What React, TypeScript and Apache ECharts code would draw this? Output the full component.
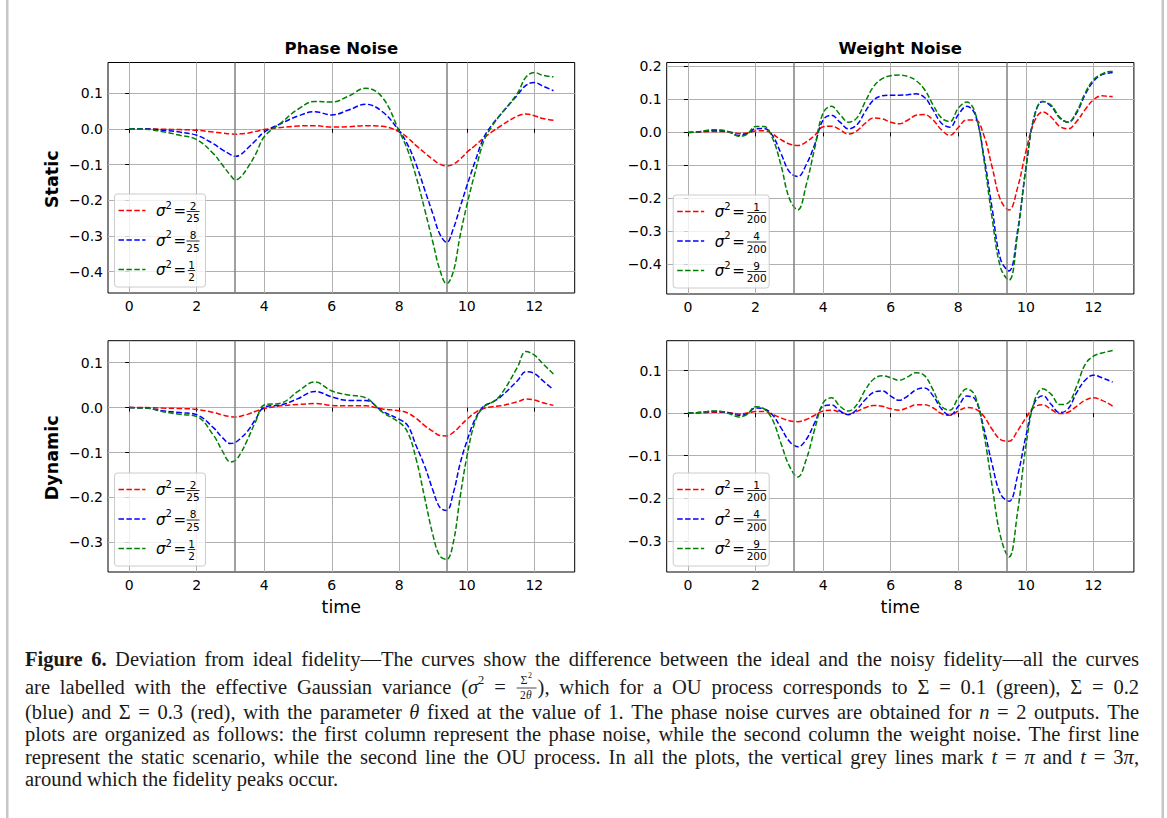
import React, { useEffect, useRef } from "react";
import * as echarts from "echarts";

// ---------------- data ----------------
const xPhase = [0, 0.5, 1, 1.5, 2, 2.5, 2.75, 3, 3.15, 3.3, 3.5, 3.75, 4, 4.5, 5, 5.5, 6, 6.5, 7, 7.5, 8, 8.25, 8.5, 8.75, 9, 9.2, 9.4, 9.6, 9.8, 10, 10.25, 10.5, 10.75, 11, 11.5, 11.75, 12, 12.25, 12.566];

const phaseStaticRed = [0, 0, -0.001, -0.002, -0.004, -0.009, -0.012, -0.014, -0.015, -0.014, -0.012, -0.007, -0.002, 0.004, 0.008, 0.009, 0.005, 0.006, 0.009, 0.007, -0.008, -0.025, -0.047, -0.067, -0.086, -0.099, -0.104, -0.099, -0.085, -0.066, -0.046, -0.026, -0.008, 0.008, 0.036, 0.042, 0.037, 0.029, 0.024];
const phaseStaticBlue = [0, 0, -0.004, -0.009, -0.018, -0.042, -0.058, -0.072, -0.077, -0.072, -0.055, -0.032, -0.009, 0.015, 0.036, 0.048, 0.039, 0.053, 0.069, 0.048, -0.006, -0.045, -0.1, -0.17, -0.24, -0.295, -0.318, -0.28, -0.22, -0.16, -0.09, -0.025, 0.012, 0.04, 0.095, 0.122, 0.13, 0.12, 0.107];
const phaseStaticGreen = [0, -0.001, -0.008, -0.018, -0.03, -0.07, -0.1, -0.13, -0.143, -0.135, -0.11, -0.07, -0.022, 0.017, 0.055, 0.077, 0.075, 0.092, 0.114, 0.088, -0.007, -0.06, -0.135, -0.225, -0.32, -0.395, -0.434, -0.4, -0.3, -0.214, -0.12, -0.035, 0.008, 0.04, 0.1, 0.145, 0.158, 0.15, 0.146];

const phaseDynamicRed = [0, 0, -0.001, -0.002, -0.004, -0.011, -0.016, -0.02, -0.021, -0.019, -0.015, -0.008, -0.002, 0.004, 0.007, 0.009, 0.005, 0.004, 0.004, -0.003, -0.007, -0.012, -0.024, -0.04, -0.053, -0.062, -0.063, -0.055, -0.041, -0.026, -0.011, -0.002, 0.002, 0.004, 0.013, 0.019, 0.017, 0.011, 0.005];
const phaseDynamicBlue = [0, -0.001, -0.007, -0.011, -0.016, -0.045, -0.066, -0.08, -0.077, -0.068, -0.053, -0.025, 0.001, 0.006, 0.02, 0.036, 0.024, 0.016, 0.016, -0.008, -0.026, -0.04, -0.085, -0.13, -0.185, -0.222, -0.229, -0.19, -0.125, -0.075, -0.025, 0.003, 0.012, 0.024, 0.06, 0.08, 0.076, 0.06, 0.04];
const phaseDynamicGreen = [0, -0.001, -0.009, -0.015, -0.02, -0.062, -0.095, -0.121, -0.117, -0.102, -0.072, -0.03, 0.006, 0.01, 0.036, 0.057, 0.037, 0.028, 0.022, -0.01, -0.033, -0.055, -0.115, -0.2, -0.285, -0.33, -0.338, -0.3, -0.2, -0.11, -0.03, 0.002, 0.012, 0.028, 0.09, 0.125, 0.117, 0.098, 0.075];

const xWeight = [0, 0.25, 0.5, 0.75, 1, 1.25, 1.5, 1.75, 2, 2.25, 2.5, 2.75, 3, 3.25, 3.5, 3.75, 4, 4.25, 4.5, 4.75, 5, 5.25, 5.5, 5.75, 6, 6.25, 6.5, 6.75, 7, 7.25, 7.5, 7.75, 8, 8.25, 8.5, 8.75, 9, 9.25, 9.5, 9.75, 10, 10.25, 10.5, 10.75, 11, 11.25, 11.5, 11.75, 12, 12.25, 12.5, 12.566];

const weightStaticRed = [0, 0.0005, 0.002, 0.003, 0.003, 0.001, -0.003, -0.002, 0.004, 0.005, -0.005, -0.022, -0.035, -0.04, -0.029, -0.009, 0.017, 0.019, 0.008, -0.005, 0.005, 0.028, 0.044, 0.041, 0.031, 0.026, 0.037, 0.052, 0.054, 0.038, 0.008, -0.009, 0.015, 0.038, 0.038, -0.007, -0.105, -0.205, -0.235, -0.169, -0.058, 0.033, 0.062, 0.046, 0.018, 0.011, 0.033, 0.069, 0.099, 0.111, 0.109, 0.109];
const weightStaticBlue = [0, 0.001, 0.004, 0.006, 0.005, 0, -0.009, -0.004, 0.011, 0.012, -0.009, -0.063, -0.119, -0.134, -0.098, -0.037, 0.038, 0.052, 0.031, 0.011, 0.023, 0.064, 0.099, 0.111, 0.113, 0.113, 0.114, 0.117, 0.106, 0.069, 0.028, 0.016, 0.054, 0.079, 0.054, -0.068, -0.23, -0.385, -0.42, -0.301, -0.108, 0.049, 0.094, 0.079, 0.044, 0.031, 0.059, 0.114, 0.155, 0.175, 0.181, 0.182];
const weightStaticGreen = [0, 0.001, 0.005, 0.008, 0.007, 0, -0.012, -0.006, 0.018, 0.018, -0.017, -0.098, -0.2, -0.235, -0.159, -0.048, 0.059, 0.079, 0.054, 0.031, 0.044, 0.094, 0.14, 0.163, 0.172, 0.174, 0.17, 0.157, 0.13, 0.084, 0.044, 0.033, 0.074, 0.092, 0.059, -0.078, -0.26, -0.41, -0.448, -0.311, -0.108, 0.049, 0.094, 0.082, 0.046, 0.031, 0.063, 0.119, 0.16, 0.177, 0.185, 0.185];

const weightDynamicRed = [0, 0, 0.001, 0.002, 0.002, 0.001, -0.002, 0, 0.004, 0.004, -0.003, -0.011, -0.018, -0.02, -0.015, -0.005, 0.005, 0.007, 0.002, -0.002, 0.004, 0.013, 0.018, 0.016, 0.01, 0.007, 0.0125, 0.0195, 0.0195, 0.0125, -0.001, -0.005, 0.005, 0.013, 0.01, -0.007, -0.038, -0.062, -0.066, -0.042, -0.011, 0.014, 0.0195, 0.0086, -0.001, 0.002, 0.016, 0.03, 0.036, 0.03, 0.02, 0.016];
const weightDynamicBlue = [0, 0.001, 0.003, 0.004, 0.003, 0, -0.005, -0.002, 0.012, 0.01, -0.004, -0.034, -0.066, -0.079, -0.062, -0.023, 0.016, 0.019, 0.005, -0.004, 0.009, 0.032, 0.049, 0.052, 0.04, 0.03, 0.04, 0.055, 0.059, 0.041, 0.01, -0.005, 0.016, 0.04, 0.032, -0.034, -0.12, -0.19, -0.207, -0.148, -0.054, 0.024, 0.041, 0.02, 0.001, 0.01, 0.048, 0.077, 0.089, 0.083, 0.075, 0.073];
const weightDynamicGreen = [0, 0.001, 0.003, 0.005, 0.004, -0.002, -0.009, -0.003, 0.015, 0.01, -0.015, -0.07, -0.124, -0.15, -0.109, -0.038, 0.024, 0.036, 0.016, 0.005, 0.02, 0.055, 0.08, 0.088, 0.083, 0.077, 0.085, 0.095, 0.088, 0.055, 0.016, 0.007, 0.036, 0.057, 0.04, -0.046, -0.171, -0.29, -0.338, -0.234, -0.077, 0.028, 0.057, 0.044, 0.02, 0.024, 0.063, 0.114, 0.134, 0.141, 0.146, 0.147];

const xTicks = [0, 2, 4, 6, 8, 10, 12];
const yTicksPhaseStatic = [-0.4, -0.3, -0.2, -0.1, 0, 0.1];
const yTicksWeightStatic = [-0.4, -0.3, -0.2, -0.1, 0, 0.1, 0.2];
const yTicksPhaseDynamic = [-0.3, -0.2, -0.1, 0, 0.1];
const yTicksWeightDynamic = [-0.3, -0.2, -0.1, 0, 0.1];
const xRange = [-0.628, 13.195];
const yRangePhaseStatic = [-0.46, 0.186];
const yRangeWeightStatic = [-0.49, 0.212];
const yRangePhaseDynamic = [-0.366, 0.149];
const yRangeWeightDynamic = [-0.373, 0.17];
const peakTimes = [Math.PI, 3 * Math.PI];
const phaseLegend = [["2", "25"], ["8", "25"], ["1", "2"]];
const weightLegend = [["1", "200"], ["4", "200"], ["9", "200"]];
const columnTitles = ["Phase Noise", "Weight Noise"];
const rowTitles = ["Static", "Dynamic"];
const xAxisTitle = "time";
const seriesColors = ["#ff0000", "#0000ff", "#008000"];
const captionLines = [
  "*Figure 6.* Deviation from ideal fidelity—The curves show the difference between the ideal and the noisy fidelity—all the curves",
  "are labelled with the effective Gaussian variance (_σ_^2 = {F}), which for a OU process corresponds to Σ = 0.1 (green), Σ = 0.2",
  "(blue) and Σ = 0.3 (red), with the parameter _θ_ fixed at the value of 1. The phase noise curves are obtained for _n_ = 2 outputs. The",
  "plots are organized as follows: the first column represent the phase noise, while the second column the weight noise. The first line",
  "represent the static scenario, while the second line the OU process. In all the plots, the vertical grey lines mark _t_ = _π_ and _t_ = 3_π_,",
  "around which the fidelity peaks occur.",
];

// ---------------- layout ----------------
const AX_FONT = "DejaVu Sans";
const CAP_FONT = '"Liberation Serif", serif';
const CAP_SIZE = 20.5;
const CAP_LEFT = 25;
const CAP_RIGHT = 1139;
const CAP_Y = [659, 687, 711.5, 734, 756.5, 779];
const TICK_FONT = 14;

const panels = [
  { grid: { left: 108, top: 62.5, width: 466.7, height: 230.5 }, xs: xPhase, ys: [phaseStaticRed, phaseStaticBlue, phaseStaticGreen], yRange: yRangePhaseStatic, yTicks: yTicksPhaseStatic, legend: phaseLegend, legendW: 91 },
  { grid: { left: 666.7, top: 62.5, width: 467.2, height: 231.5 }, xs: xWeight, ys: [weightStaticRed, weightStaticBlue, weightStaticGreen], yRange: yRangeWeightStatic, yTicks: yTicksWeightStatic, legend: weightLegend, legendW: 96 },
  { grid: { left: 108, top: 340.7, width: 466.7, height: 231.3 }, xs: xPhase, ys: [phaseDynamicRed, phaseDynamicBlue, phaseDynamicGreen], yRange: yRangePhaseDynamic, yTicks: yTicksPhaseDynamic, legend: phaseLegend, legendW: 91 },
  { grid: { left: 666.7, top: 340.7, width: 467.2, height: 231.3 }, xs: xWeight, ys: [weightDynamicRed, weightDynamicBlue, weightDynamicGreen], yRange: yRangeWeightDynamic, yTicks: yTicksWeightDynamic, legend: weightLegend, legendW: 96 },
];

const fmtY = (v: number) => {
  const s = Math.abs(v).toFixed(1);
  return v < -1e-9 ? "\u2212" + s : s;
};

function txt(x: number, y: number, text: string, o: any = {}) {
  return {
    type: "text",
    x,
    y,
    z: o.z ?? 20,
    rotation: o.rotation ?? 0,
    silent: true,
    style: {
      text,
      fill: o.fill ?? "#000",
      fontSize: o.size ?? 13,
      fontFamily: o.family ?? AX_FONT,
      fontWeight: o.weight ?? "normal",
      fontStyle: o.style ?? "normal",
      align: o.align ?? "left",
      textAlign: o.align ?? "left",
      verticalAlign: o.valign ?? "middle",
      textVerticalAlign: o.valign ?? "middle",
    },
  };
}

function legendElements(p: any) {
  const els: any[] = [];
  const bx = p.grid.left + 6.5;
  const bh = 93;
  const by = p.grid.top + p.grid.height - 6 - bh;
  els.push({
    type: "rect",
    z: 18,
    silent: true,
    shape: { x: bx, y: by, width: p.legendW, height: bh, r: 3 },
    style: { fill: "rgba(255,255,255,0.8)", stroke: "#cccccc", lineWidth: 1 },
  });
  p.legend.forEach((fr: string[], i: number) => {
    const ry = by + 16.5 + i * 29.5;
    els.push({
      type: "line",
      z: 19,
      silent: true,
      shape: { x1: bx + 4, y1: ry, x2: bx + 31, y2: ry },
      style: { stroke: seriesColors[i], lineWidth: 1.5, lineDash: [5.5, 2.4] },
    });
    els.push(txt(bx + 41.5, ry + 0.5, "σ", { style: "italic", size: 15 }));
    els.push(txt(bx + 51, ry - 5.5, "2", { size: 10 }));
    els.push(txt(bx + 59, ry + 0.5, "=", { size: 15 }));
    const long = fr[1].length > 2;
    const cx = bx + (long ? 83.5 : fr[1].length > 1 ? 78.5 : 77);
    const bw = long ? 19 : fr[1].length > 1 ? 13 : 7.5;
    els.push(txt(cx, ry - 5, fr[0], { size: 10.5, align: "center" }));
    els.push({
      type: "line",
      z: 20,
      silent: true,
      shape: { x1: cx - bw / 2, y1: ry + 1, x2: cx + bw / 2, y2: ry + 1 },
      style: { stroke: "#000", lineWidth: 0.8 },
    });
    els.push(txt(cx, ry + 7.5, fr[1], { size: 10.5, align: "center" }));
  });
  return els;
}

function captionElements() {
  const els: any[] = [];
  const cv = document.createElement("canvas");
  const ctx = cv.getContext("2d") as CanvasRenderingContext2D;
  const fontOf = (r: any) =>
    `${r.italic ? "italic " : ""}${r.bold ? "bold " : ""}${r.size}px ${CAP_FONT}`;
  const measure = (r: any) => {
    ctx.font = fontOf(r);
    return ctx.measureText(r.t).width;
  };
  const FRAC_W = 22;
  let bold = false;
  let italic = false;
  captionLines.forEach((line, li) => {
    const y = CAP_Y[li];
    const words = line.split(" ").map((w) => {
      const runs: any[] = [];
      let cur = "";
      const flush = () => {
        if (cur) {
          runs.push({ t: cur, bold, italic, size: CAP_SIZE, dy: 0 });
          cur = "";
        }
      };
      for (let i = 0; i < w.length; i++) {
        const c = w[i];
        if (c === "{") {
          flush();
          runs.push({ frac: true });
          i = w.indexOf("}", i);
          continue;
        }
        if (c === "*") { flush(); bold = !bold; continue; }
        if (c === "_") { flush(); italic = !italic; continue; }
        if (c === "^") {
          flush();
          runs.push({ t: w[i + 1], bold, italic: false, size: 12.5, dy: -7.5 });
          i++;
          continue;
        }
        cur += c;
      }
      flush();
      runs.forEach((r) => (r.w = r.frac ? FRAC_W : measure(r)));
      return runs;
    });
    const total = words.reduce((s, rs) => s + rs.reduce((a: number, r: any) => a + r.w, 0), 0);
    ctx.font = `${CAP_SIZE}px ${CAP_FONT}`;
    const space = ctx.measureText(" ").width;
    const last = li === captionLines.length - 1;
    const gap = last ? space : Math.max(space * 0.8, (CAP_RIGHT - CAP_LEFT - total) / (words.length - 1));
    let x = CAP_LEFT;
    words.forEach((runs) => {
      runs.forEach((r: any) => {
        if (r.frac) {
          const cx = x + FRAC_W / 2;
          els.push(txt(cx - 6, y - 7.5, "Σ", { family: CAP_FONT, size: 12, fill: "#1a1a1a" }));
          els.push(txt(cx + 1.5, y - 11.5, "2", { family: CAP_FONT, size: 8, fill: "#1a1a1a" }));
          els.push({
            type: "line",
            z: 20,
            silent: true,
            shape: { x1: x + 1, y1: y + 1, x2: x + FRAC_W - 1, y2: y + 1 },
            style: { stroke: "#1a1a1a", lineWidth: 0.8 },
          });
          els.push(txt(cx - 6.5, y + 7.5, "2", { family: CAP_FONT, size: 11.5, fill: "#1a1a1a" }));
          els.push(txt(cx - 0.5, y + 7.5, "θ", { family: CAP_FONT, size: 11.5, style: "italic", fill: "#1a1a1a" }));
        } else {
          els.push(
            txt(x, y + r.dy, r.t, {
              family: CAP_FONT,
              size: r.size,
              weight: r.bold ? "bold" : "normal",
              style: r.italic ? "italic" : "normal",
              fill: "#1a1a1a",
            })
          );
        }
        x += r.w;
      });
      x += gap;
    });
  });
  return els;
}

function buildOption() {
  const grids = panels.map((p) => ({
    ...p.grid,
    show: true,
    borderColor: "#000",
    borderWidth: 1,
    backgroundColor: "transparent",
    containLabel: false,
  }));
  const xAxes = panels.map((p, i) => ({
    type: "value",
    gridIndex: i,
    min: xRange[0],
    max: xRange[1],
    axisLine: { show: false },
    axisTick: { show: true, customValues: xTicks, length: 4, inside: false, lineStyle: { color: "#000", width: 1 } },
    axisLabel: { show: true, customValues: xTicks, margin: 6, color: "#000", fontSize: TICK_FONT, fontFamily: AX_FONT, formatter: (v: number) => String(Math.round(v)) },
    splitLine: { show: true, lineStyle: { color: "#b0b0b0", width: 1 } },
  }));
  const yAxes = panels.map((p, i) => ({
    type: "value",
    gridIndex: i,
    min: p.yRange[0],
    max: p.yRange[1],
    axisLine: { show: false },
    axisTick: { show: true, customValues: p.yTicks, length: 4, inside: false, lineStyle: { color: "#000", width: 1 } },
    axisLabel: { show: true, customValues: p.yTicks, margin: 5, color: "#000", fontSize: TICK_FONT, fontFamily: AX_FONT, formatter: (v: number) => fmtY(v) },
    splitLine: { show: true, lineStyle: { color: "#b0b0b0", width: 1 } },
  }));
  const series: any[] = [];
  panels.forEach((p, i) => {
    p.ys.forEach((ys: number[], k: number) => {
      series.push({
        type: "line",
        xAxisIndex: i,
        yAxisIndex: i,
        data: p.xs.map((x: number, j: number) => [x, ys[j]]),
        smooth: 0.4,
        symbol: "none",
        silent: true,
        z: 3,
        lineStyle: { color: seriesColors[k], width: 1.5, type: [5.5, 2.4] },
        markLine:
          k === 0
            ? {
                silent: true,
                symbol: ["none", "none"],
                label: { show: false },
                lineStyle: { color: "#808080", width: 1.5, type: "solid" },
                data: peakTimes.map((t) => ({ xAxis: t })),
              }
            : undefined,
      });
    });
  });

  const graphics: any[] = [];
  graphics.push({ type: "rect", silent: true, z: 1, shape: { x: 6, y: 0, width: 2.5, height: 818 }, style: { fill: "#c6c6c6" } });
  graphics.push({ type: "rect", silent: true, z: 1, shape: { x: 1161.5, y: 0, width: 2.5, height: 818 }, style: { fill: "#c6c6c6" } });
  [panels[0], panels[1]].forEach((p, c) => {
    graphics.push(txt(p.grid.left + p.grid.width / 2, 48, columnTitles[c], { size: 16.5, weight: "bold", align: "center" }));
  });
  [panels[0], panels[2]].forEach((p, r) => {
    graphics.push(txt(52, p.grid.top + p.grid.height / 2 + 1.5, rowTitles[r], { size: 17.5, weight: "bold", align: "center", rotation: Math.PI / 2 }));
  });
  [panels[2], panels[3]].forEach((p) => {
    graphics.push(txt(p.grid.left + p.grid.width / 2, 607, xAxisTitle, { size: 17.5, align: "center" }));
  });
  panels.forEach((p) => graphics.push(...legendElements(p)));
  graphics.push(...captionElements());

  return {
    animation: false,
    backgroundColor: "#fff",
    grid: grids,
    xAxis: xAxes,
    yAxis: yAxes,
    series,
    graphic: { elements: graphics },
  };
}

export default function App() {
  const ref = useRef<HTMLDivElement>(null);
  useEffect(() => {
    if (!ref.current) return;
    const chart = echarts.init(ref.current, undefined, { renderer: "svg" });
    chart.setOption(buildOption() as any);
    return () => chart.dispose();
  }, []);
  return (
    <div
      ref={ref}
      style={{ position: "absolute", left: 0, top: 0, width: 1167, height: 818, background: "#fff" }}
    />
  );
}
